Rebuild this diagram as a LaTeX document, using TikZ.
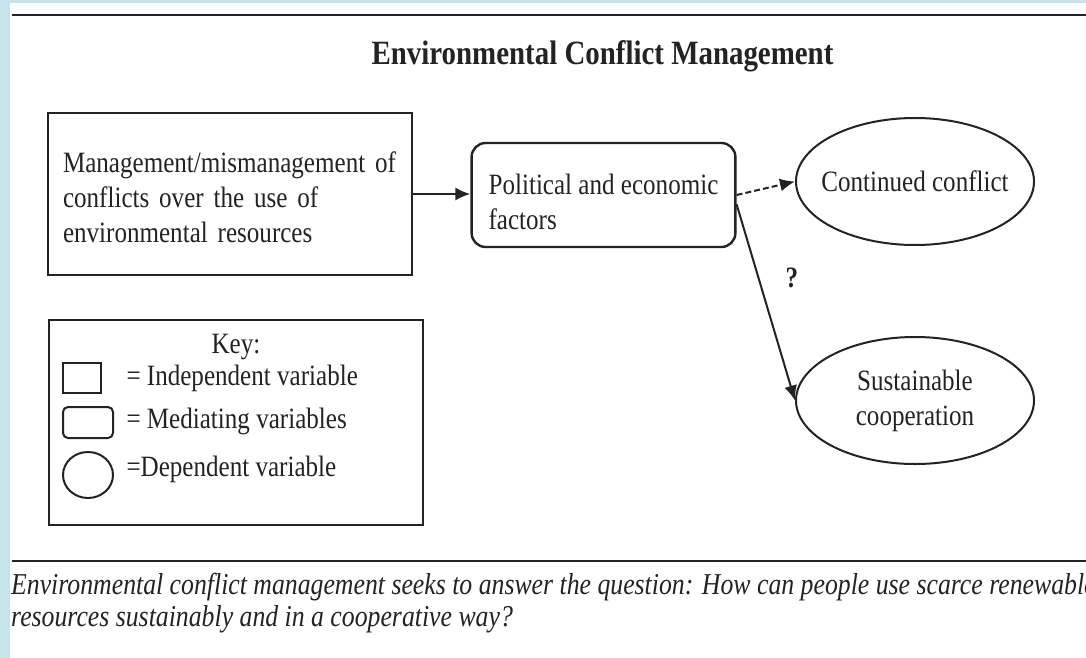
\documentclass[tikz,border=0pt]{standalone}
\usepackage{fontspec}
\setmainfont{Liberation Serif}[FakeStretch=0.85]
\usetikzlibrary{arrows.meta,shapes.geometric}
\definecolor{ink}{RGB}{35,35,35}
\definecolor{slideblue}{RGB}{198,227,235}

\begin{document}
\begin{tikzpicture}[
			x=1pt,y=-1pt,
			every node/.style={text=ink,font=\fontsize{29.5}{35}\selectfont},
			indepbox/.style={draw=ink,line width=2.4pt,text width=334pt,align=left,inner xsep=15pt,minimum height=162pt},
			mediatorbox/.style={draw=ink,line width=2.4pt,rounded corners=14pt,align=left,inner xsep=17pt,minimum height=104pt},
			outcome/.style={draw=ink,line width=2pt,ellipse,align=center,inner xsep=-12pt,inner ysep=0pt,minimum width=238pt,minimum height=127pt},
			keysym/.style={draw=ink,line width=2pt,inner sep=0pt},
			keytext/.style={anchor=base west},
			link/.style={draw=ink,line width=2pt,-{Latex[length=15pt,width=13pt]}},
			rule/.style={draw=ink,line width=2.6pt}
		]
		\useasboundingbox (0,0) rectangle (1086,658);
		\clip (0,0) rectangle (1086,658);
		\fill[white] (0,0) rectangle (1086,658);
		\fill[slideblue] (0,0) rectangle (10,658);
		\fill[slideblue] (0,0) rectangle (1086,3);

		\draw[rule] (12,15) -- (1086,15);
		\node[anchor=base,font=\fontsize{34}{40}\selectfont\bfseries] (title) at (602.5,65) {Environmental Conflict Management};

		\node[indepbox,text height=20pt,text depth=64pt] (indep) at (230,194) {Management/mismanagement of\\conflicts over the use of\\environmental resources};
		\node[mediatorbox,text height=68pt,text depth=0pt] (mediator) at (603.5,195) {Political and economic\\factors};
		\node[outcome] (cont) at (915,181.5) {Continued conflict};
		\node[outcome] (coop) at (915,400.5) {Sustainable\\cooperation};

		\draw[link] (indep.east) -- (indep.east -| mediator.west);
		\draw[link,dash pattern=on 6pt off 3pt] (mediator.east) -- (cont.west);
		\draw[link] (mediator.-4) -- (coop.west);
		\node[font=\fontsize{29.5}{35}\selectfont\bfseries] (query) at (792,278) {?};

		\node[draw=ink,line width=2.4pt,minimum width=374pt,minimum height=205pt] (keybox) at (236,422.5) {};
		\node[anchor=base] (keyhead) at (236,353) {Key:};
		\node[keysym,minimum width=38pt,minimum height=30pt] (keyindep) at (82,378) {};
		\node[keysym,rounded corners=5pt,minimum width=50pt,minimum height=31pt] (keymed) at (88,422.5) {};
		\node[keysym,ellipse,minimum width=50pt,minimum height=46pt] (keydep) at (88,475) {};
		\node[keytext] (keyindeptext) at (123,385) {= Independent variable};
		\node[keytext] (keymedtext) at (123,428) {= Mediating variables};
		\node[keytext] (keydeptext) at (123,476) {=Dependent variable};

		\draw[rule] (12,561) -- (1086,561);
		\node[anchor=north west,inner sep=0pt,align=left,font=\fontsize{30.3}{32}\selectfont\itshape] (caption) at (11,573) {Environmental conflict management seeks to answer the question: How can people use scarce renewable\\resources sustainably and in a cooperative way?};
	\end{tikzpicture}
\end{document}
